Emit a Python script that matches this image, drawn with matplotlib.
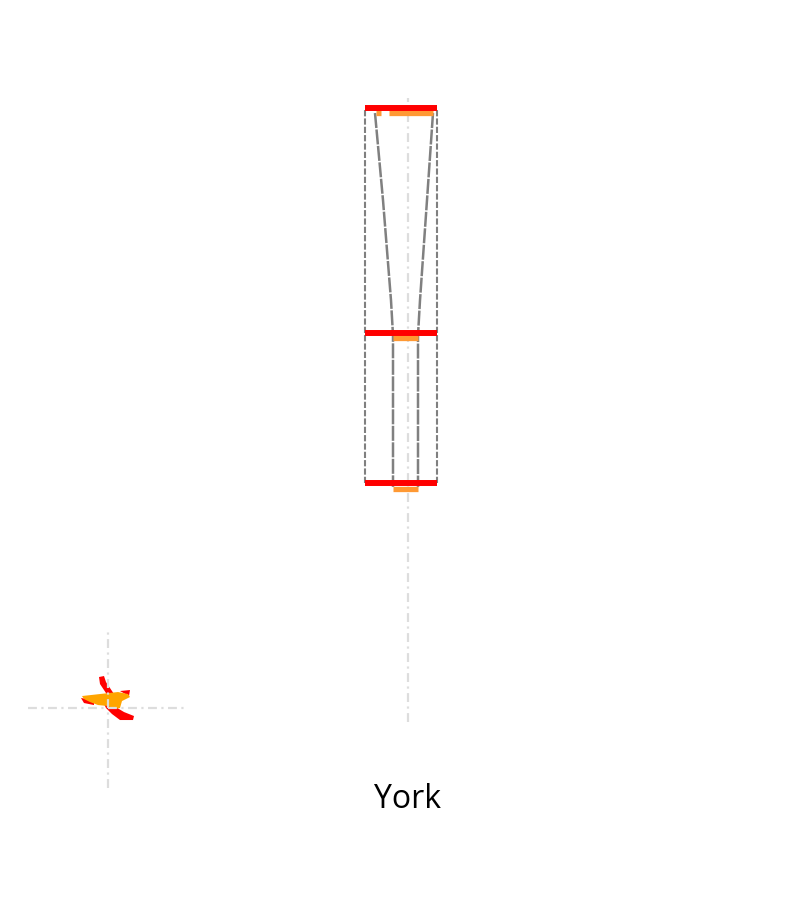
import numpy as np
import matplotlib.pyplot as plt
from matplotlib.patches import Polygon
from matplotlib.transforms import blended_transform_factory

plt.rcParams["font.family"] = ["Open Sans", "DejaVu Sans"]

# box statistics for the single category
category = "York"
whisker_lo, whisker_hi = 0.0, 100.3
q1, median, q3 = 38.4, 62.5, 98.7
box_left, box_right = -0.43, 0.29

# second (orange) series, drawn just under the red one
orange_levels = [97.9, 61.7, 37.5]
orange_spans = [[(-0.32, -0.27), (-0.19, 0.25)], [(-0.15, 0.10)], [(-0.15, 0.10)]]

# hourglass outline: value, left edge, right edge
shape_v = [97.9, 83.9, 67.8, 62.2, 37.8]
shape_left = [-0.33, -0.25, -0.17, -0.15, -0.15]
shape_right = [0.25, 0.19, 0.12, 0.10, 0.10]

# little glyph in the lower left corner
blob_orange = [(-26, 12), (-8, 14), (10, 16), (20, 14), (22, 11), (14, 7), (12, 0),
               (6, -1), (0, 2), (-10, 3), (-18, 6), (-24, 9)]
blob_red = [
    [(-9, 31), (-4, 32), (-2, 26), (2, 20), (6, 14), (0, 12), (-4, 18), (-8, 24)],
    [(-4, 4), (6, 2), (16, -4), (26, -8), (25, -12), (12, -12), (4, -6), (-2, 0)],
    [(-27, 10), (-14, 8), (-14, 3), (-24, 5)],
    [(12, 17), (22, 18), (21, 12)],
]

RED = "#ff0000"
ORANGE = "#ff9933"
GREY = "#808080"
LIGHT = "#dddddd"

fig = plt.figure(figsize=(8, 9), dpi=100)
ax = fig.add_axes([0, 0.14, 1, 0.80])
scale = 6.22
ax.set_xlim(-4.08, 3.92)
ax.set_ylim(-52 / scale, 100 + 46 / scale)
ax.axis("off")

# whisker line
ax.vlines(0, whisker_lo, whisker_hi, color=LIGHT, lw=1.6, linestyles=(0, (4, 2, 1, 2)), zorder=1)

# dashed box
ax.plot([box_left, box_left], [q1, q3], color=GREY, lw=1.5, dashes=(3, 1), zorder=2)
ax.plot([box_right, box_right], [q1, q3], color=GREY, lw=1.5, dashes=(3, 1), zorder=2)

# hourglass
ax.plot(shape_left, shape_v, color=GREY, lw=1.8, dashes=(6, 0.6), zorder=3)
ax.plot(shape_right, shape_v, color=GREY, lw=1.8, dashes=(6, 0.6), zorder=3)

# orange series
for lev, spans in zip(orange_levels, orange_spans):
    for a, b in spans:
        ax.plot([a, b], [lev, lev], color=ORANGE, lw=3.8, solid_capstyle="butt", zorder=4)

# red quartile lines
for lev in [q3, median, q1]:
    ax.plot([box_left, box_right], [lev, lev], color=RED, lw=4.3, solid_capstyle="butt", zorder=5)

trans = blended_transform_factory(ax.transData, ax.transAxes)
ax.text(0, -0.047, category, transform=trans, ha="center", va="baseline", fontsize=23)

# corner glyph
ax2 = fig.add_axes([0.035, 0.1244, 0.2, 0.1778])
ax2.set_xlim(-80, 80)
ax2.set_ylim(-80, 80)
ax2.axis("off")
ax2.axhline(0, color=LIGHT, lw=1.6, linestyle=(0, (4, 2, 1, 2)))
ax2.axvline(0, color=LIGHT, lw=1.6, linestyle=(0, (4, 2, 1, 2)))
for pts in blob_red:
    ax2.add_patch(Polygon(np.array(pts), closed=True, color=RED, lw=0))
ax2.add_patch(Polygon(np.array(blob_orange), closed=True, color="#ffa500", lw=0))

fig.savefig("out.png", dpi=100)
